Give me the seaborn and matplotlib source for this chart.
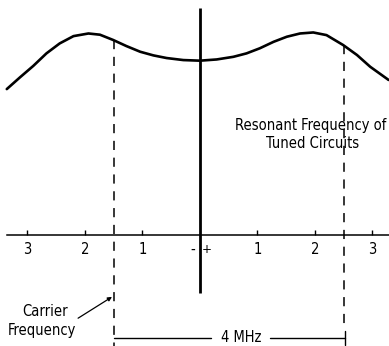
import matplotlib
matplotlib.use("Agg")
import matplotlib.pyplot as plt
import seaborn as sns
import pandas as pd

# Frequency offset from the resonant frequency (MHz) and relative response
freq_mhz = [-3.36, -3.13, -2.90, -2.67, -2.44, -2.20, -1.94, -1.74, -1.51, -1.28,
            -1.04, -0.81, -0.58, -0.29, 0.0, 0.29, 0.58, 0.81, 1.04, 1.28,
            1.51, 1.74, 1.97, 2.20, 2.49, 2.73, 2.96, 3.28]
response = [0.719, 0.777, 0.833, 0.895, 0.944, 0.980, 0.993, 0.987, 0.961, 0.931,
            0.903, 0.885, 0.872, 0.862, 0.859, 0.865, 0.878, 0.895, 0.920, 0.952,
            0.977, 0.993, 0.998, 0.985, 0.936, 0.887, 0.829, 0.764]

tick_pos = [-3, -2, -1, 1, 2, 3]
tick_labels = ["3", "2", "1", "1", "2", "3"]

carrier_mhz = -1.5
bandwidth_mhz = 4.0
upper_edge_mhz = carrier_mhz + bandwidth_mhz

df = pd.DataFrame({"freq": freq_mhz, "resp": response})

sns.set_theme(style="white")
plt.rcParams["font.family"] = ["DejaVu Sans"]
plt.rcParams["font.stretch"] = "condensed"
plt.rcParams["text.color"] = "black"
plt.rcParams["xtick.color"] = "black"
plt.rcParams["xtick.labelcolor"] = "black"

FS = 10.5

fig = plt.figure(figsize=(3.89, 3.46), dpi=100)
ax = fig.add_axes([0, 0, 1, 1])

sns.lineplot(data=df, x="freq", y="resp", ax=ax, color="black", lw=1.9,
             estimator=None, sort=False)

ax.set_xlim(-3.478, 3.287)
ax.set_ylim(-0.547, 1.158)

# resonant frequency marker
ax.plot([0, 0], [1.118, -0.286], color="black", lw=2.0, solid_capstyle="butt")

# carrier and upper band edges
dash = (0, (6, 5))
ax.plot([carrier_mhz, carrier_mhz], [0.961, -0.545], color="black", lw=1.1, ls=dash)
ax.plot([upper_edge_mhz, upper_edge_mhz], [0.936, -0.47], color="black", lw=1.1, ls=dash)

# bandwidth dimension line
dim_y = -0.507
ax.plot([carrier_mhz, 0.20], [dim_y, dim_y], color="black", lw=1.0)
ax.plot([1.22, upper_edge_mhz + 0.03], [dim_y, dim_y], color="black", lw=1.0)
ax.plot([upper_edge_mhz + 0.03] * 2, [dim_y - 0.035, dim_y + 0.035], color="black", lw=1.0)
ax.text(0.71, dim_y, f"{bandwidth_mhz:g} MHz", ha="center", va="center", fontsize=FS)

# frequency axis
for s in ["top", "left", "right"]:
    ax.spines[s].set_visible(False)
ax.spines["bottom"].set_position(("data", 0))
ax.spines["bottom"].set_bounds(-3.36, 3.287)
ax.spines["bottom"].set_linewidth(1.1)
ax.spines["bottom"].set_color("black")
ax.set_yticks([])
ax.set_xticks(tick_pos)
ax.set_xticklabels(tick_labels)
ax.tick_params(axis="x", direction="in", length=3.5, width=1.0, color="black",
               labelsize=FS, labelcolor="black", pad=5, bottom=True)
ax.set_xlabel("")
ax.set_ylabel("")
ax.text(-0.12, -0.07, "-", ha="center", va="center", fontsize=FS)
ax.text(0.12, -0.07, "+", ha="center", va="center", fontsize=FS - 1)

# annotations
ax.text(1.92, 0.54, "Resonant Frequency of", ha="center", va="center", fontsize=FS)
ax.text(1.95, 0.45, "Tuned Circuits", ha="center", va="center", fontsize=FS)
ax.text(-2.70, -0.375, "Carrier", ha="center", va="center", fontsize=FS)
ax.text(-2.75, -0.473, "Frequency", ha="center", va="center", fontsize=FS)
ax.annotate("", xy=(carrier_mhz - 0.03, -0.305), xytext=(-2.12, -0.41),
            arrowprops=dict(arrowstyle="-|>", color="black", lw=0.9,
                            mutation_scale=6, shrinkA=0, shrinkB=0))

fig.savefig("out.png", dpi=100, facecolor="white")
